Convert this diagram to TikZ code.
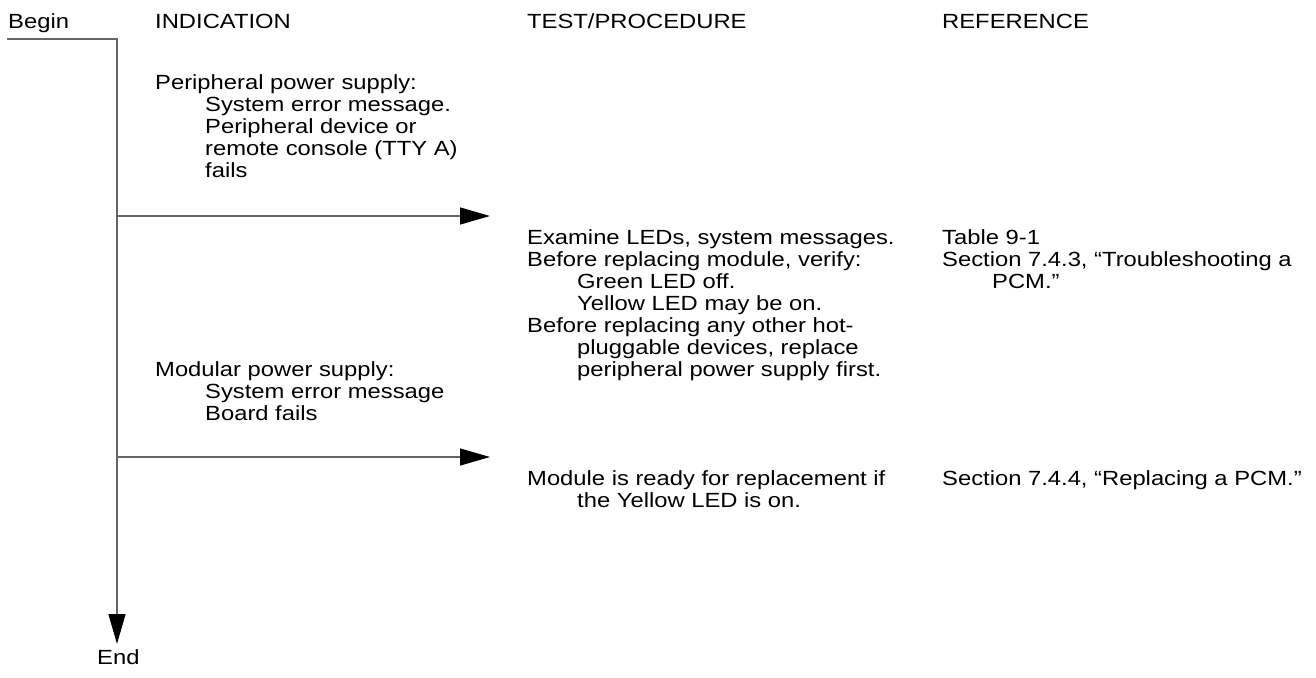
\documentclass[tikz,border=0pt]{standalone}
\usepackage{fontspec}
\setmainfont{Liberation Sans}[FakeStretch=1.16]
\usetikzlibrary{arrows.meta}
\begin{document}
\begin{tikzpicture}[x=1pt,y=-1pt,
  txt/.style={anchor=base west, inner sep=0pt, font=\fontsize{20.5}{22}\selectfont},
  flow/.style={draw=black!60, line width=1.3pt},
  arrowed/.style={-{Triangle[length=30pt,width=17pt,color=black]}}]
\useasboundingbox (0,0) rectangle (1316,677);
% headers
\node[txt] (begin) at (8,29) {Begin};
\node[txt] (hind) at (155,29) {INDICATION};
\node[txt] (htest) at (527,29) {TEST/PROCEDURE};
\node[txt] (href) at (942,29) {REFERENCE};
% indication 1
\node[txt] (i1a) at (155,89) {Peripheral power supply:};
\node[txt] (i1b) at (205,111) {System error message.};
\node[txt] (i1c) at (205,133) {Peripheral device or};
\node[txt] (i1d) at (205,155) {remote console (TTY A)};
\node[txt] (i1e) at (205,177) {fails};
% test 1
\node[txt] (t1a) at (527,244) {Examine LEDs, system messages.};
\node[txt] (t1b) at (527,266) {Before replacing module, verify:};
\node[txt] (t1c) at (577,288) {Green LED off.};
\node[txt] (t1d) at (577,310) {Yellow LED may be on.};
\node[txt] (t1e) at (527,332) {Before replacing any other hot-};
\node[txt] (t1f) at (577,354) {pluggable devices, replace};
\node[txt] (t1g) at (577,376) {peripheral power supply first.};
% reference 1
\node[txt] (r1a) at (942,244) {Table 9-1};
\node[txt] (r1b) at (942,266) {Section 7.4.3, “Troubleshooting a};
\node[txt] (r1c) at (992,288) {PCM.”};
% indication 2
\node[txt] (i2a) at (155,376) {Modular power supply:};
\node[txt] (i2b) at (205,398) {System error message};
\node[txt] (i2c) at (205,420) {Board fails};
% test 2
\node[txt] (t2a) at (527,485) {Module is ready for replacement if};
\node[txt] (t2b) at (577,507) {the Yellow LED is on.};
% reference 2
\node[txt] (r2a) at (942,485) {Section 7.4.4, “Replacing a PCM.”};
% end
\node[txt] (end) at (97,664) {End};
% connectors
\coordinate (bstart) at (7,39);
\coordinate (bcorner) at (117,39);
\coordinate (bend) at (117,644);
\coordinate (j1) at (117,216);
\coordinate (a1) at (490,216);
\coordinate (j2) at (117,457);
\coordinate (a2) at (490,457);
\draw[flow,arrowed] (bstart) -- (bcorner) -- (bend);
\draw[flow,arrowed] (j1) -- (a1);
\draw[flow,arrowed] (j2) -- (a2);
\end{tikzpicture}
\end{document}
